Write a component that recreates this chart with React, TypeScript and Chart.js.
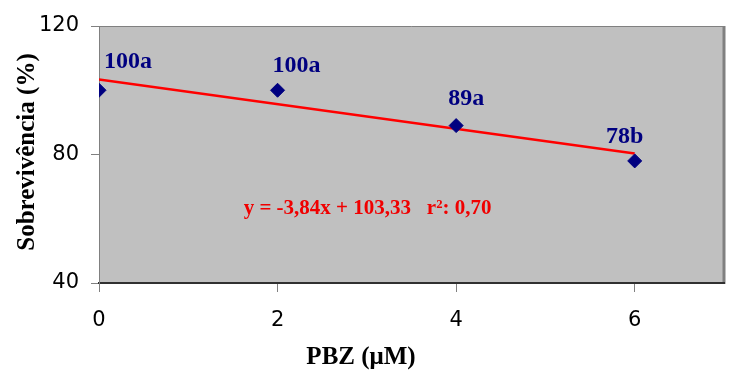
import React, { useEffect, useRef } from "react";
import { Chart, registerables } from "chart.js";

Chart.register(...registerables);

// ---- data ----
const doses = [0, 2, 4, 6];
const survival = [100, 100, 89, 78];
const pointLabels = ["100a", "100a", "89a", "78b"];
const trendX = [0, 6];
const trendY = [103.33, 80.29];
const xTicks = [0, 2, 4, 6];
const yTicks = [40, 80, 120];
const equationText = "y = -3,84x + 103,33   r²: 0,70";
const xTitle = "PBZ (μM)";
const yTitle = "Sobrevivência (%)";

// ---- styling / placement ----
const labelOffsets = [
  [29, -28],
  [19, -24],
  [10, -27],
  [-10, -24],
];
const equationAnchor = { x: 1.62, y: 63.3 };
const SERIF = '"Liberation Serif", "Times New Roman", serif';
const SANS = '"DejaVu Sans", Arial, sans-serif';

const decor = {
  id: "decor",
  beforeDraw(chart: any) {
    const { ctx, chartArea: a } = chart;
    ctx.save();
    ctx.fillStyle = "#c0c0c0";
    ctx.fillRect(a.left, a.top, a.right - a.left, a.bottom - a.top);
    ctx.strokeStyle = "#808080";
    ctx.lineWidth = 1;
    ctx.beginPath();
    ctx.moveTo(a.left, a.top + 0.5);
    ctx.lineTo(a.right, a.top + 0.5);
    ctx.stroke();
    ctx.lineWidth = 3;
    ctx.beginPath();
    ctx.moveTo(a.right, a.top);
    ctx.lineTo(a.right, a.bottom + 1);
    ctx.stroke();
    ctx.restore();
  },
  afterDatasetsDraw(chart: any) {
    const { ctx, scales } = chart;
    const xs = scales.x;
    const ys = scales.y;
    ctx.save();
    ctx.font = `bold 24px ${SERIF}`;
    ctx.fillStyle = "#000080";
    ctx.textAlign = "center";
    ctx.textBaseline = "middle";
    doses.forEach((d, i) => {
      const px = xs.getPixelForValue(d) + labelOffsets[i][0];
      const py = ys.getPixelForValue(survival[i]) + labelOffsets[i][1];
      ctx.fillText(pointLabels[i], px, py);
    });
    ctx.font = `bold 21px ${SERIF}`;
    ctx.fillStyle = "#f00000";
    ctx.textAlign = "left";
    ctx.fillText(
      equationText,
      xs.getPixelForValue(equationAnchor.x),
      ys.getPixelForValue(equationAnchor.y)
    );
    ctx.restore();
  },
  afterDraw(chart: any) {
    const { ctx } = chart;
    ctx.save();
    ctx.fillStyle = "#000000";
    ctx.font = `bold 25px ${SERIF}`;
    ctx.textAlign = "center";
    ctx.textBaseline = "middle";
    ctx.fillText(xTitle, 361, 358);
    ctx.translate(28, 152);
    ctx.rotate(-Math.PI / 2);
    ctx.fillText(yTitle, 0, 0);
    ctx.restore();
  },
};

export default function App() {
  const ref = useRef<HTMLCanvasElement | null>(null);
  useEffect(() => {
    if (!ref.current) return;
    const chart = new Chart(ref.current, {
      type: "scatter",
      data: {
        datasets: [
          {
            label: "Sobrevivência",
            data: doses.map((d, i) => ({ x: d, y: survival[i] })),
            pointStyle: "rectRot",
            pointRadius: 7,
            pointHoverRadius: 7,
            backgroundColor: "#000080",
            borderColor: "#000080",
            borderWidth: 1,
            showLine: false,
          },
          {
            label: "Tendência",
            data: trendX.map((x, i) => ({ x, y: trendY[i] })),
            showLine: true,
            borderColor: "#ff0000",
            borderWidth: 2.5,
            pointRadius: 0,
            pointHoverRadius: 0,
            fill: false,
          },
        ],
      },
      options: {
        animation: false,
        responsive: false,
        devicePixelRatio: 1,
        layout: { padding: { top: 26, right: 18, left: 0, bottom: 0 } },
        plugins: {
          legend: { display: false },
          tooltip: { enabled: false },
        },
        scales: {
          x: {
            type: "linear",
            min: 0,
            max: 7,
            afterBuildTicks: (s: any) => {
              s.ticks = xTicks.map((v) => ({ value: v }));
            },
            afterFit: (s: any) => {
              s.height = 102;
            },
            grid: {
              display: true,
              drawOnChartArea: false,
              drawTicks: true,
              tickLength: 9,
              color: "#808080",
            },
            border: { display: true, color: "#303030", width: 2 },
            ticks: {
              color: "#000000",
              font: { family: SANS, size: 21 },
              padding: 16,
              maxRotation: 0,
              callback: (v: any) => String(v),
            },
          },
          y: {
            type: "linear",
            min: 40,
            max: 120,
            afterBuildTicks: (s: any) => {
              s.ticks = yTicks.map((v) => ({ value: v }));
            },
            afterFit: (s: any) => {
              s.width = 99;
            },
            grid: {
              display: true,
              drawOnChartArea: false,
              drawTicks: true,
              tickLength: 8,
              color: "#808080",
            },
            border: { display: true, color: "#808080", width: 1 },
            ticks: {
              color: "#000000",
              font: { family: SANS, size: 21 },
              padding: 12,
              callback: (v: any) => String(v),
            },
          },
        },
      },
      plugins: [decor],
    });
    return () => chart.destroy();
  }, []);
  return (
    <div style={{ position: "absolute", left: 0, top: 0, width: 742, height: 385, background: "#ffffff" }}>
      <canvas ref={ref} width={742} height={385} style={{ display: "block" }} />
    </div>
  );
}
